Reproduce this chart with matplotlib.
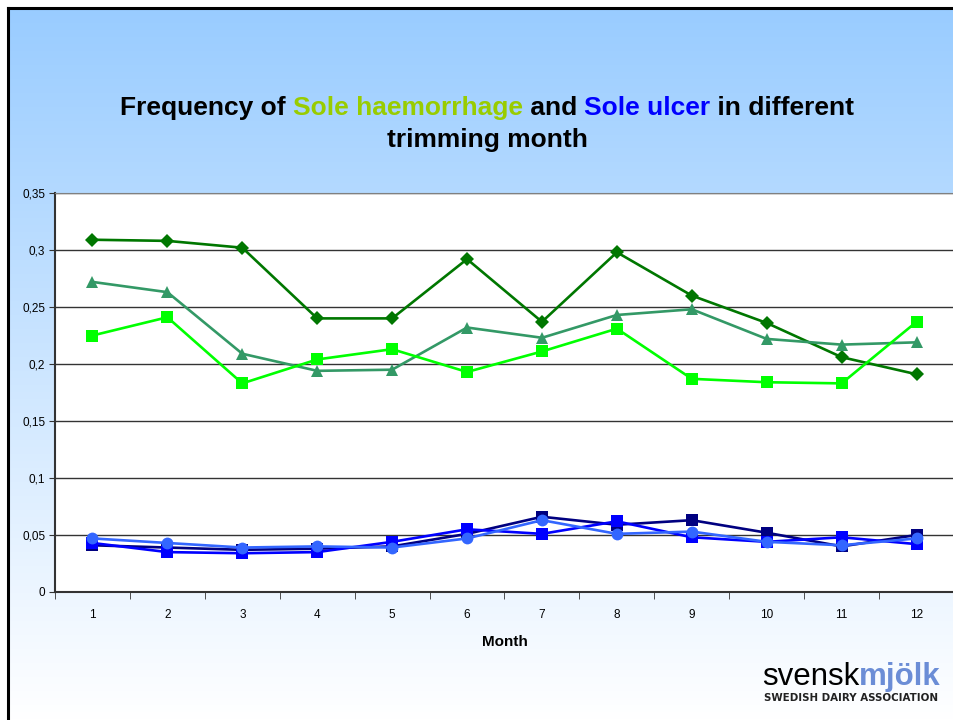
import numpy as np
import matplotlib as mpl
mpl.use('Agg')
import matplotlib.pyplot as plt
from matplotlib.lines import Line2D

months = list(range(1, 12 + 1))

# Sole haemorrhage series
haem_a = [0.309, 0.308, 0.302, 0.240, 0.240, 0.292, 0.237, 0.298, 0.260, 0.236, 0.206, 0.191]
haem_b = [0.272, 0.263, 0.209, 0.194, 0.195, 0.232, 0.223, 0.243, 0.248, 0.222, 0.217, 0.219]
haem_c = [0.225, 0.241, 0.183, 0.204, 0.213, 0.193, 0.211, 0.231, 0.187, 0.184, 0.183, 0.237]

# Sole ulcer series
ulcer_a = [0.041, 0.039, 0.037, 0.038, 0.040, 0.051, 0.066, 0.059, 0.063, 0.052, 0.040, 0.050]
ulcer_b = [0.043, 0.035, 0.034, 0.035, 0.044, 0.055, 0.051, 0.062, 0.048, 0.044, 0.048, 0.042]
ulcer_c = [0.047, 0.043, 0.039, 0.040, 0.039, 0.047, 0.063, 0.051, 0.053, 0.044, 0.041, 0.047]

yticks = [0, 0.05, 0.1, 0.15, 0.2, 0.25, 0.3, 0.35]
ytick_labels = ['0', '0,05', '0,1', '0,15', '0,2', '0,25', '0,3', '0,35']

plt.rcParams['font.family'] = ['Liberation Sans', 'DejaVu Sans']

W, H = 954, 720
fig = plt.figure(figsize=(W / 100, H / 100), dpi=100)

# gradient background inside the black frame
x0 = 8 / W
y1 = 1 - 8 / H
bg = fig.add_axes([x0, 0, 1 - x0, y1], zorder=-10)
grad = np.linspace(0, 1, 256)[:, None]
top = np.array([153, 204, 255]) / 255
cols = top[None, None, :] + (1 - top)[None, None, :] * grad[:, :, None]
bg.imshow(cols, aspect='auto', extent=[0, 1, 0, 1], origin='upper')
bg.set_axis_off()
fig.add_artist(Line2D([x0, x0], [0, y1], transform=fig.transFigure, color='black', lw=2.2))
fig.add_artist(Line2D([x0, 1], [y1, y1], transform=fig.transFigure, color='black', lw=2.2))

ax = fig.add_axes([55 / W, 1 - 592 / H, 1 - 55 / W, (592 - 193) / H])
ax.set_facecolor('white')

line_style = {'lw': 1.9, 'markeredgewidth': 0}
ax.plot(months, haem_a, color='#007700', marker='D', ms=7, **line_style)
ax.plot(months, haem_b, color='#339966', marker='^', ms=9, **line_style)
ax.plot(months, haem_c, color='#00FF00', marker='s', ms=8, **line_style)
ax.plot(months, ulcer_a, color='#000080', marker='s', ms=8, **line_style)
ax.plot(months, ulcer_b, color='#0000FF', marker='s', ms=8, **line_style)
ax.plot(months, ulcer_c, color='#3366FF', marker='o', ms=8.5, **line_style)

ax.set_xlim(0.5, 12.5)
ax.set_ylim(0, 0.35)
ax.set_yticks(yticks)
ax.set_yticklabels(ytick_labels, fontsize=8.5)
ax.set_xticks(months)
ax.set_xticklabels([str(m) for m in months], fontsize=8.5)
ax.set_xticks(np.arange(0.5, 12.6, 1), minor=True)
ax.tick_params(axis='x', which='major', length=0, pad=12)
ax.tick_params(axis='x', which='minor', length=5, color='#333333', direction='out')
ax.tick_params(axis='y', length=4, color='#333333', direction='out', pad=3)
ax.yaxis.grid(True, color='#333333', lw=1)
ax.set_axisbelow(True)
for s in ['left', 'bottom']:
    ax.spines[s].set_color('#333333')
    ax.spines[s].set_linewidth(1.5)
ax.spines['top'].set_color('#808080')
ax.spines['right'].set_visible(False)
ax.set_xlabel('Month', fontsize=11, fontweight='bold', labelpad=10)

# multi-coloured title
renderer = fig.canvas.get_renderer()
style = {'fontsize': 19, 'fontweight': 'bold', 'va': 'center', 'ha': 'left'}
parts = [('Frequency of ', 'black'), ('Sole haemorrhage', '#99CC00'),
         (' and ', 'black'), ('Sole ulcer', '#0000FF'), (' in different', 'black')]
full = fig.text(0, 0, ''.join(p for p, _ in parts), **style)
total = full.get_window_extent(renderer).width
full.remove()
cx = 487
x = cx - total / 2
prefix = ''
for s, c in parts:
    fig.text(x / W, 1 - 108 / H, s, color=c, **style)
    prefix += s
    t = fig.text(0, 0, prefix, **style)
    x = cx - total / 2 + t.get_window_extent(renderer).width
    t.remove()
fig.text(cx / W, 1 - 140 / H, 'trimming month', fontsize=19, fontweight='bold',
         ha='center', va='center')

# logo
lt = fig.text(762 / W, 1 - 685 / H, 'svensk', fontsize=22.5, color='black', va='baseline', ha='left')
ex = lt.get_window_extent(renderer)
fig.text(ex.x1 / W, 1 - 685 / H, 'mjölk', fontsize=22.5, fontweight='bold', color='#6B8DD6',
         va='baseline', ha='left')
fig.text(851 / W, 1 - 698 / H, 'SWEDISH DAIRY ASSOCIATION', fontsize=7.4, fontweight='bold',
         color='#222222', ha='center', va='center', family='DejaVu Sans')

fig.savefig('out.png', dpi=100)
